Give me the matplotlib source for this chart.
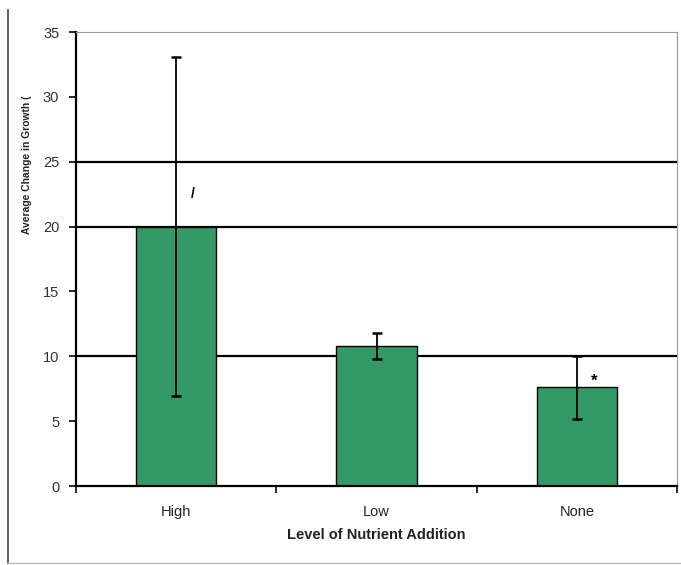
import matplotlib
matplotlib.use("Agg")
import matplotlib.pyplot as plt
from matplotlib.lines import Line2D

# data
levels = ["High", "Low", "None"]
means = [20.0, 10.8, 7.6]
errs = [13.1, 1.0, 2.4]
marks = ["/", "", "*"]
yticks = [0, 5, 10, 15, 20, 25, 30, 35]
grid_levels = [10, 20, 25]

plt.rcParams["font.family"] = ["Liberation Sans", "DejaVu Sans"]

fig = plt.figure(figsize=(6.81, 5.65), dpi=100)
ax = fig.add_axes([76 / 681, 79 / 565, 601 / 681, 454 / 565])

x = range(len(levels))
for g in grid_levels:
    ax.axhline(g, color="black", lw=1.6, zorder=1)
ax.bar(x, means, width=0.4, color="#339966", edgecolor="black", lw=1.0, zorder=2)
ax.errorbar(x, means, yerr=errs, fmt="none", ecolor="black", elinewidth=1.3,
            capsize=3.5, capthick=1.8, zorder=3)
for i, (m, e, t) in enumerate(zip(means, errs, marks)):
    if t:
        ax.text(i + 0.085, m + 0.45 if t == "*" else m + 2.5, t, ha="center", va="center",
                fontsize=12 if t == "*" else 10, fontweight="bold")

ax.set_xlim(-0.5, 2.5)
ax.set_ylim(0, 35)
ax.set_xticks(list(x))
ax.set_xticklabels(levels, fontsize=10.5, color="#222222")
ax.set_xticks([-0.5, 0.5, 1.5, 2.5], minor=True)
ax.tick_params(axis="x", which="major", length=0, pad=14)
ax.tick_params(axis="x", which="minor", length=5, width=1.2, direction="out")
ax.set_yticks(yticks)
ax.set_yticklabels([str(v) for v in yticks], fontsize=10.5, color="#333333")
ax.tick_params(axis="y", length=5, width=1.2, pad=7)

ax.set_xlabel("Level of Nutrient Addition", fontsize=10.5, fontweight="bold",
              color="#222222", labelpad=6)
ax.set_ylabel("Average Change in Growth (", fontsize=7.4, fontweight="bold", color="#222222")
ax.yaxis.set_label_coords(-0.074, 0.707)

for s in ("left", "bottom"):
    ax.spines[s].set_linewidth(1.6)
    ax.spines[s].set_color("black")
for s in ("top", "right"):
    ax.spines[s].set_linewidth(0.8)
    ax.spines[s].set_color("#999999")

# outer frame edges of the chart object
fig.add_artist(Line2D([8 / 681, 8 / 681], [2 / 565, 555 / 565], color="#444444", lw=1.2))
fig.add_artist(Line2D([8 / 681, 1.0], [2 / 565, 2 / 565], color="#bbbbbb", lw=1.0))

fig.savefig("out.png", dpi=100, facecolor="white")
